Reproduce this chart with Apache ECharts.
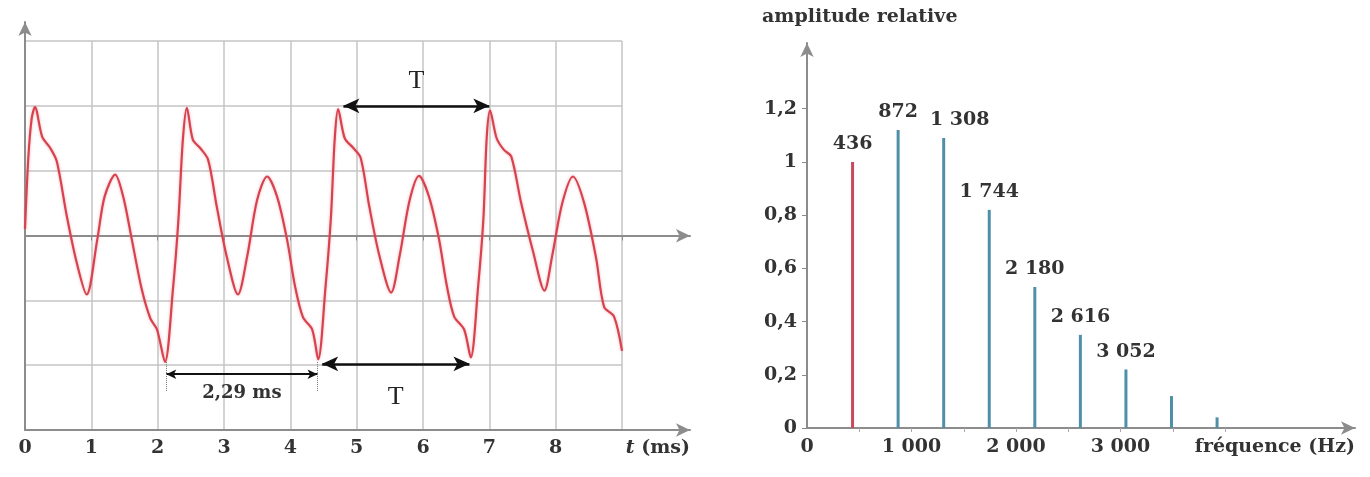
<!DOCTYPE html>
<html>
<head>
<meta charset="utf-8">
<script src="https://cdn.jsdelivr.net/npm/echarts@6/dist/echarts.min.js"></script>
<style>
  html, body { margin: 0; padding: 0; background: #fff; }
  #chart { width: 1370px; height: 477px; }
</style>
</head>
<body>
<div id="chart"></div>
<script>
// signal (ms / relative units)
const waveTime = [0, 0.05, 0.1, 0.15, 0.26, 0.38, 0.48, 0.63, 0.78, 0.93, 1.09, 1.2, 1.36, 1.48, 1.61, 1.76, 1.89, 1.99,
  2.11, 2.23, 2.31, 2.38, 2.44, 2.53, 2.64, 2.76, 2.89, 3.04, 3.21, 3.35, 3.5, 3.65, 3.8, 3.95, 4.07, 4.19, 4.33,
  4.42, 4.53, 4.61, 4.67, 4.72, 4.82, 4.95, 5.06, 5.19, 5.34, 5.52, 5.65, 5.8, 5.94, 6.09, 6.24, 6.36, 6.47, 6.62,
  6.72, 6.83, 6.91, 6.96, 7.01, 7.11, 7.22, 7.33, 7.48, 7.66, 7.83, 7.95, 8.1, 8.26, 8.43, 8.61, 8.73, 8.88, 9.0]
const waveAmp = [0.1, 1.2, 1.8, 1.98, 1.52, 1.35, 1.14, 0.3, -0.42, -0.91, -0.06, 0.6, 0.94, 0.6, -0.06, -0.83, -1.28, -1.45,
  -1.95, -0.83, 0.2, 1.48, 1.97, 1.48, 1.35, 1.17, 0.45, -0.32, -0.91, -0.32, 0.55, 0.91, 0.6, -0.06, -0.78, -1.26, -1.45,
  -1.91, -0.8, 0.25, 1.5, 1.95, 1.5, 1.35, 1.2, 0.45, -0.3, -0.88, -0.3, 0.55, 0.92, 0.6, -0.05, -0.78, -1.25, -1.45,
  -1.88, -0.8, 0.25, 1.5, 1.93, 1.5, 1.32, 1.22, 0.5, -0.25, -0.85, -0.3, 0.5, 0.91, 0.5, -0.35, -1.1, -1.25, -1.78]
const timeTicks = [0, 1, 2, 3, 4, 5, 6, 7, 8]

// measurement arrows on the oscillogram: [t start, t end, level, label]
const periodTop = [4.8, 7.0, 2.0, 'T']
const periodBottom = [4.48, 6.7, -1.98, 'T']
const measured = [2.13, 4.41, -2.14, '2,29 ms']

// spectrum
const freqs = [436, 872, 1308, 1744, 2180, 2616, 3052, 3488, 3924]
const amps = [1.0, 1.12, 1.09, 0.82, 0.53, 0.35, 0.22, 0.12, 0.04]
const freqLabels = ['436', '872', '1 308', '1 744', '2 180', '2 616', '3 052', '', '']
const freqTicks = [0, 1000, 2000, 3000]
const freqMinorTicks = [500, 1000, 1500, 2000, 2500, 3000, 3500, 4000]
const ampTicks = [0, 0.2, 0.4, 0.6, 0.8, 1, 1.2]

const FONT = 'DejaVu Serif'
const TXT = '#333'
const AXIS = '#8c8c8c'
const GRIDC = '#c4c4c4'
const txt = (size) => ({ fontFamily: FONT, fontSize: size || 19, fontWeight: 'bold', color: TXT })

const chart = echarts.init(document.getElementById('chart'))

const option = {
  animation: false,
  title: {
    text: 'amplitude relative',
    left: 757,
    top: 3,
    textStyle: txt(19)
  },
  grid: [
    // oscillogram grid area
    { left: 25, right: 748, top: 41, bottom: 47 },
    // arrowed axes of the oscillogram
    { left: 25, right: 680, top: 22, bottom: 47 },
    { left: 25, right: 680, top: 22, bottom: 47 },
    // spectrum
    { left: 807, right: 15, top: 43, bottom: 49 }
  ],
  xAxis: [
    {
      gridIndex: 0, type: 'value', min: 0, max: 9, interval: 1,
      axisLine: { show: false },
      axisTick: { show: true, length: 5, lineStyle: { color: AXIS }, customValues: [0, 1, 2, 3, 4, 5, 6, 7, 8, 9] },
      axisLabel: Object.assign({ customValues: timeTicks, margin: 9 }, txt(19)),
      splitLine: { show: true, lineStyle: { color: GRIDC, width: 1.5 } }
    },
    {
      gridIndex: 1, type: 'value', min: 0, max: 10, position: 'bottom',
      axisLine: { onZero: false, symbol: ['none', 'arrow'], symbolSize: [10, 14], lineStyle: { color: AXIS, width: 2 } },
      axisTick: { show: false }, axisLabel: { show: false }, splitLine: { show: false },
      name: '{i|t} (ms)', nameLocation: 'end', nameGap: 0,
      nameTextStyle: Object.assign({
        align: 'right', verticalAlign: 'top', padding: [9, 0, 0, 0],
        rich: { i: Object.assign({ fontStyle: 'italic' }, txt(19)) }
      }, txt(19))
    },
    {
      gridIndex: 2, type: 'value', min: 0, max: 10,
      axisLine: { onZero: true, symbol: ['none', 'arrow'], symbolSize: [10, 14], lineStyle: { color: AXIS, width: 2 } },
      axisTick: { show: false }, axisLabel: { show: false }, splitLine: { show: false }
    },
    {
      gridIndex: 3, type: 'value', min: 0, max: 5244, interval: 1000,
      axisLine: { symbol: ['none', 'arrow'], symbolSize: [10, 14], lineStyle: { color: AXIS, width: 2 } },
      axisTick: { show: true, length: 4, lineStyle: { color: '#aaa' }, customValues: freqMinorTicks },
      axisLabel: Object.assign({
        customValues: freqTicks, margin: 10,
        formatter: v => v === 0 ? '0' : (v / 1000) + ' 000'
      }, txt(19)),
      splitLine: { show: false },
      name: 'fréquence (Hz)', nameLocation: 'end', nameGap: 0,
      nameTextStyle: Object.assign({ align: 'right', verticalAlign: 'top', padding: [10, 0, 0, 0] }, txt(19))
    }
  ],
  yAxis: [
    {
      gridIndex: 0, type: 'value', min: -3, max: 3, interval: 1,
      axisLine: { show: false }, axisTick: { show: false }, axisLabel: { show: false },
      splitLine: { show: true, lineStyle: { color: GRIDC, width: 1.5 } }
    },
    {
      gridIndex: 1, type: 'value', min: -3, max: 3.3,
      axisLine: { onZero: false, symbol: ['none', 'arrow'], symbolSize: [10, 14], lineStyle: { color: AXIS, width: 2 } },
      axisTick: { show: false }, axisLabel: { show: false }, splitLine: { show: false }
    },
    {
      gridIndex: 2, type: 'value', min: -3, max: 3.3, show: false
    },
    {
      gridIndex: 3, type: 'value', min: 0, max: 1.447,
      axisLine: { show: true, symbol: ['none', 'arrow'], symbolSize: [10, 14], lineStyle: { color: AXIS, width: 2 } },
      axisTick: { show: true, length: 5, lineStyle: { color: AXIS }, customValues: ampTicks },
      axisLabel: Object.assign({
        customValues: ampTicks, margin: 10,
        formatter: v => String(Math.round(v * 10) / 10).replace('.', ',')
      }, txt(19)),
      splitLine: { show: false }
    }
  ],
  series: [
    {
      type: 'line',
      xAxisIndex: 0, yAxisIndex: 0,
      data: waveTime.map((t, i) => [t, waveAmp[i]]),
      smooth: 0.3,
      showSymbol: false,
      lineStyle: { color: '#d6434f', width: 2.2, shadowColor: 'rgba(240,130,140,0.6)', shadowBlur: 3 },
      markLine: {
        silent: true,
        symbol: ['arrow', 'arrow'],
        symbolSize: [11, 16],
        lineStyle: { color: '#111', width: 2.5, type: 'solid' },
        label: { fontFamily: 'Liberation Serif', fontSize: 26, color: '#222' },
        data: [
          [
            { coord: [periodTop[0], periodTop[2]], label: { show: true, formatter: periodTop[3], position: 'middle', distance: 12 } },
            { coord: [periodTop[1], periodTop[2]] }
          ],
          [
            { coord: [periodBottom[0], periodBottom[2]], label: { show: true, formatter: periodBottom[3], position: 'insideMiddleBottom', distance: 20 } },
            { coord: [periodBottom[1], periodBottom[2]] }
          ],
          [
            {
              coord: [measured[0], measured[2]], symbolSize: [7, 10],
              lineStyle: { width: 2 },
              label: Object.assign({ show: true, formatter: measured[3], position: 'insideMiddleBottom', distance: 10 }, txt(18))
            },
            { coord: [measured[1], measured[2]], symbolSize: [7, 10] }
          ],
          [
            { coord: [measured[0], -1.95], symbol: 'none', lineStyle: { width: 1, type: 'dotted', color: '#777' }, label: { show: false } },
            { coord: [measured[0], -2.4], symbol: 'none' }
          ],
          [
            { coord: [measured[1], -1.95], symbol: 'none', lineStyle: { width: 1, type: 'dotted', color: '#777' }, label: { show: false } },
            { coord: [measured[1], -2.4], symbol: 'none' }
          ]
        ]
      }
    },
    {
      type: 'bar',
      xAxisIndex: 3, yAxisIndex: 3,
      barWidth: 3,
      data: freqs.map((f, i) => ({
        value: [f, amps[i]],
        itemStyle: { color: i === 0 ? '#c84a5c' : '#4f8fa8' },
        label: i === 2 ? { offset: [16, 0] } : undefined
      })),
      label: Object.assign({
        show: true, position: 'top', distance: 8,
        formatter: p => freqLabels[p.dataIndex]
      }, txt(19))
    }
  ]
}

chart.setOption(option)
</script>
</body>
</html>
